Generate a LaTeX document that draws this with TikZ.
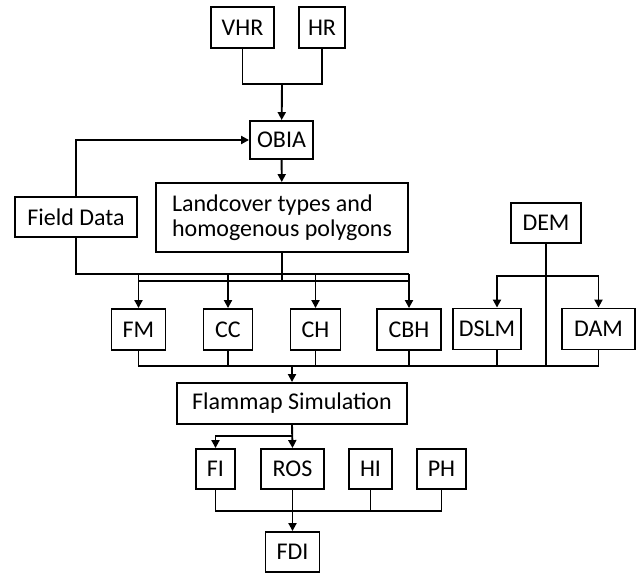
\documentclass[tikz,border=0pt]{standalone}
\usepackage{fontspec}
\setmainfont{Carlito}
\usetikzlibrary{arrows.meta}

\begin{document}
\begin{tikzpicture}[
  x=1pt, y=-1pt,
  >={Triangle[length=8pt,width=8pt]},
  line width=1.9pt,
  every node/.style={font=\fontsize{24}{25}\selectfont},
  box/.style={draw, inner sep=0pt, minimum height=41pt}
]
  \useasboundingbox (0,0) rectangle (636,575);

  \node[box, minimum width=63pt] (vhr) at (242.5,27.5) {VHR};
  \node[box, minimum width=46pt] (hr) at (322,27.5) {HR};
  \node[box, minimum width=63pt, minimum height=38pt] (obia) at (281.5,140) {OBIA};
  \node[box, minimum width=252pt, minimum height=69pt, align=left] (lc) at (282,217.5) {Landcover types and\\homogenous polygons};
  \node[box, minimum width=122pt, minimum height=40pt] (fd) at (76,217) {Field Data};
  \node[box, minimum width=70pt, minimum height=40pt] (dem) at (546,223) {DEM};

  \node[box, minimum width=54pt] (fm) at (138.5,329.5) {FM};
  \node[box, minimum width=49pt] (cc) at (228,329.5) {CC};
  \node[box, minimum width=50pt] (ch) at (315.5,329.5) {CH};
  \node[box, minimum width=64pt] (cbh) at (409,329.5) {CBH};
  \node[box, minimum width=68pt] (dslm) at (487,329) {DSLM};
  \node[box, minimum width=73pt] (dam) at (598.5,329) {DAM};

  \node[box, minimum width=230pt] (flam) at (292,403.5) {Flammap Simulation};

  \node[box, minimum width=39pt, minimum height=40pt] (fi) at (215.5,469) {FI};
  \node[box, minimum width=63pt, minimum height=40pt] (ros) at (292.5,469) {ROS};
  \node[box, minimum width=43pt, minimum height=40pt] (hi) at (370.5,469) {HI};
  \node[box, minimum width=49pt, minimum height=40pt] (ph) at (441.5,469) {PH};
  \node[box, minimum width=54pt, minimum height=40pt] (fdi) at (292.5,552) {FDI};

  \coordinate (sat) at (282,84);
  \coordinate (fdbus) at (409,274);
  \coordinate (lcbus) at (282,281);
  \coordinate (dembr) at (546,276);
  \coordinate (sim) at (292,366);
  \coordinate (fl) at (292,436);
  \coordinate (out) at (292,511);

  % imagery
  \draw (vhr.south) |- (sat) -| (hr.south);
  \draw[->] (sat) -- (obia);
  \draw[->] (fd.north) |- (obia.west);
  \draw[->] (obia) -- (lc);

  % inputs to the fuel layers
  \draw (fd.south) |- (fdbus);
  \draw (lc.south) -- (lcbus);
  \draw (fm.north |- lcbus) -- (cbh.north |- lcbus);
  \draw[->] (fm.north |- fdbus) -- (fm.north);
  \draw[->] (cc.north |- fdbus) -- (cc.north);
  \draw[->] (ch.north |- fdbus) -- (ch.north);
  \draw[->] (cbh.north |- fdbus) -- (cbh.north);

  % terrain
  \draw (dem.south) -- (dem.south |- sim);
  \draw[->] (dembr) -| ([xshift=10pt]dslm.north);
  \draw[->] (dembr) -| (dam.north);

  % to the simulation
  \draw (fm.south) |- (sim) -| (dam.south);
  \draw (cc.south) -- (cc.south |- sim);
  \draw (ch.south) -- (ch.south |- sim);
  \draw (cbh.south) -- (cbh.south |- sim);
  \draw ([xshift=10pt]dslm.south) -- ([xshift=10pt]dslm.south |- sim);
  \draw[->] (sim) -- (flam);

  % outputs
  \draw[->] (flam.south) -- (ros.north);
  \draw[->] (fl) -| (fi.north);
  \draw (fi.south) |- (out) -| (ph.south);
  \draw (hi.south) -- (hi.south |- out);
  \draw[->] (ros.south) -- (fdi.north);
\end{tikzpicture}
\end{document}
